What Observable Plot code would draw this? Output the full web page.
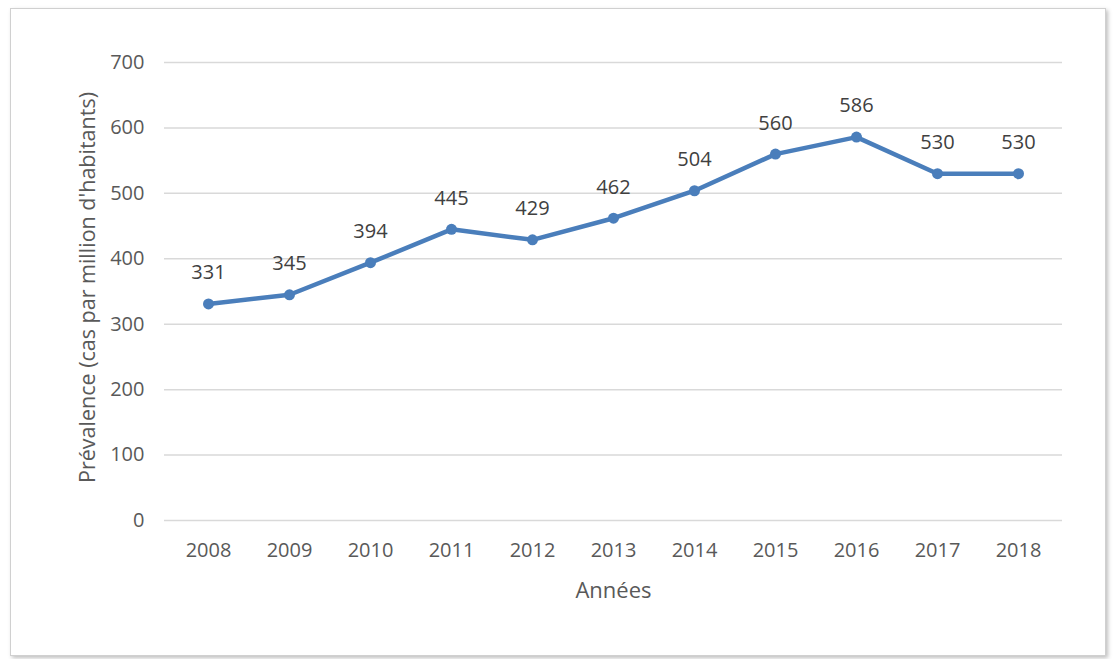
<!DOCTYPE html>
<html><head><meta charset="utf-8">
<script src="https://cdn.jsdelivr.net/npm/d3@7"></script>
<script src="https://cdn.jsdelivr.net/npm/@observablehq/plot@0.6"></script>
<style>
body{margin:0;background:#fff;}
#frame{position:absolute;left:10px;top:8px;width:1094px;height:646px;border:1px solid #d0d0d0;box-shadow:2px 2px 4px rgba(0,0,0,0.25);background:#fff;}
#chart{position:absolute;left:0;top:0;}
</style>
</head><body>
<div id="frame"></div>
<div id="chart"></div>
<script>
const years = ["2008","2009","2010","2011","2012","2013","2014","2015","2016","2017","2018"];
const prevalence = [331,345,394,445,429,462,504,560,586,530,530];
const yTicks = [0,100,200,300,400,500,600,700];
const xLabel = "Années";
const yLabel = "Prévalence (cas par million d'habitants)";

const data = years.map((y,i)=>({year:y, value:prevalence[i]}));
const color = "#4a7ebb";
const font = "'Open Sans', sans-serif";

const chart = Plot.plot({
  width:1113, height:659,
  marginLeft:164, marginRight:51, marginTop:62, marginBottom:139,
  style:{fontFamily:font, fontSize:"20px", color:"#595959", background:"transparent"},
  x:{type:"point", domain:years, padding:0.5, label:null},
  y:{domain:[0,700], label:null},
  marks:[
    Plot.gridY(yTicks,{stroke:"#d9d9d9", strokeOpacity:1, strokeWidth:1.5}),
    Plot.axisY(yTicks,{tickSize:0, tickPadding:20, fill:"#595959", fontSize:20}),
    Plot.axisX({tickSize:0, tickPadding:22, fill:"#595959", fontSize:20}),
    Plot.text([xLabel],{frameAnchor:"bottom", dy:70, lineAnchor:"middle", fill:"#595959", fontSize:22}),
    Plot.text([yLabel],{frameAnchor:"left", dx:-76, dy:-4, rotate:-90, textAnchor:"middle", lineAnchor:"middle", fill:"#595959", fontSize:21.5}),
    Plot.line(data,{x:"year", y:"value", stroke:color, strokeWidth:4.5, strokeLinejoin:"round"}),
    Plot.dot(data,{x:"year", y:"value", r:5.5, fill:color}),
    Plot.text(data,{x:"year", y:"value", text:d=>String(d.value), dy:-31, fill:"#404040", fontSize:20})
  ]
});
document.getElementById("chart").appendChild(chart);
</script>
</body></html>
